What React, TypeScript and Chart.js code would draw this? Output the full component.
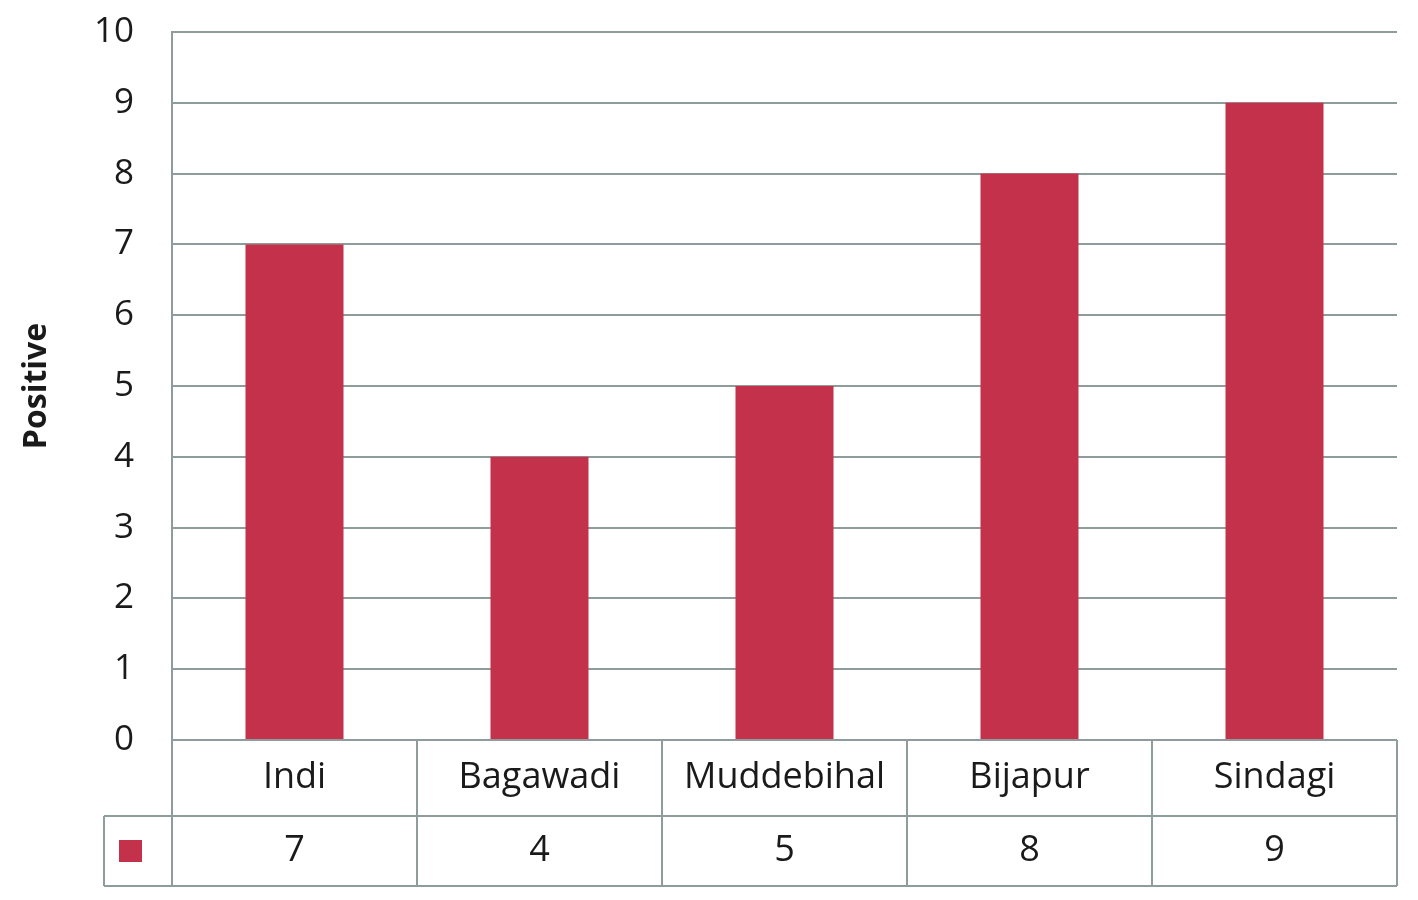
import React, { useEffect, useRef } from "react";
import { Chart, registerables } from "chart.js";

Chart.register(...registerables);

const categories: string[] = ["Indi", "Bagawadi", "Muddebihal", "Bijapur", "Sindagi"];
const positiveValues: number[] = [7, 4, 5, 8, 9];
const yTicks: number[] = [0, 1, 2, 3, 4, 5, 6, 7, 8, 9, 10];
const yAxisTitle = "Positive";

const BAR_COLOR = "#C4314A";
const GRID_COLOR = "#8E9C9C";
const TEXT_COLOR = "#1a1a1a";
const FONT = "'Open Sans', 'Liberation Sans', sans-serif";

const tablePlugin = {
  id: "dataTable",
  afterDraw(chart: any) {
    const ctx = chart.ctx;
    const area = chart.chartArea;
    const xs = chart.scales.x;
    const n = categories.length;
    const step = (area.right - area.left) / n;
    const row1Top = area.bottom;
    const row1Bottom = row1Top + 76;
    const row2Bottom = row1Bottom + 70;
    const legendLeft = 104;

    ctx.save();
    ctx.strokeStyle = GRID_COLOR;
    ctx.lineWidth = 2;
    ctx.beginPath();
    ctx.moveTo(area.left, row1Top);
    ctx.lineTo(area.right, row1Top);
    ctx.moveTo(legendLeft, row1Bottom);
    ctx.lineTo(area.right, row1Bottom);
    ctx.moveTo(legendLeft, row2Bottom);
    ctx.lineTo(area.right, row2Bottom);
    ctx.moveTo(legendLeft, row1Bottom);
    ctx.lineTo(legendLeft, row2Bottom);
    for (let i = 0; i <= n; i++) {
      const x = i < n ? xs.getPixelForValue(i) - step / 2 : xs.getPixelForValue(n - 1) + step / 2;
      ctx.moveTo(x, row1Top);
      ctx.lineTo(x, row2Bottom);
    }
    ctx.stroke();

    ctx.fillStyle = TEXT_COLOR;
    ctx.font = `36px ${FONT}`;
    ctx.textAlign = "center";
    ctx.textBaseline = "middle";
    categories.forEach((c, i) => {
      const cx = xs.getPixelForValue(i);
      ctx.fillText(c, cx, (row1Top + row1Bottom) / 2);
      ctx.fillText(String(positiveValues[i]), cx, (row1Bottom + row2Bottom) / 2);
    });

    ctx.fillStyle = BAR_COLOR;
    const kx = 130;
    const ky = (row1Bottom + row2Bottom) / 2;
    ctx.fillRect(kx - 11, ky - 11, 23, 22);

    ctx.fillStyle = TEXT_COLOR;
    ctx.font = `bold 32px ${FONT}`;
    ctx.translate(37, (area.top + area.bottom) / 2);
    ctx.rotate(-Math.PI / 2);
    ctx.fillText(yAxisTitle, 0, 0);
    ctx.restore();
  },
};

export default function App() {
  const canvasRef = useRef<HTMLCanvasElement | null>(null);

  useEffect(() => {
    if (!canvasRef.current) return;
    const chart = new Chart(canvasRef.current, {
      type: "bar",
      data: {
        labels: categories,
        datasets: [
          {
            label: yAxisTitle,
            data: positiveValues,
            backgroundColor: BAR_COLOR,
            borderWidth: 0,
            categoryPercentage: 1,
            barPercentage: 0.4,
          },
        ],
      },
      options: {
        animation: false,
        responsive: false,
        maintainAspectRatio: false,
        layout: { padding: { left: 0, right: 21, top: 32, bottom: 160 } },
        plugins: {
          legend: { display: false },
          tooltip: { enabled: false },
          title: { display: false },
        },
        scales: {
          x: { display: false },
          y: {
            min: 0,
            max: 10,
            afterFit(scale: any) {
              scale.width = 172;
              scale.paddingTop = 0;
              scale.paddingBottom = 0;
            },
            afterBuildTicks(scale: any) {
              scale.ticks = yTicks.map((v) => ({ value: v }));
            },
            grid: { color: GRID_COLOR, lineWidth: 2, drawTicks: false },
            border: { display: true, color: GRID_COLOR, width: 2 },
            ticks: {
              color: TEXT_COLOR,
              font: { family: FONT, size: 35 },
              padding: 38,
            },
          },
        },
      },
      plugins: [tablePlugin],
    });
    return () => chart.destroy();
  }, []);

  return (
    <div style={{ position: "absolute", left: 0, top: 0, width: 1418, height: 900, background: "#fff" }}>
      <canvas ref={canvasRef} width={1418} height={900} style={{ width: 1418, height: 900 }} />
    </div>
  );
}
